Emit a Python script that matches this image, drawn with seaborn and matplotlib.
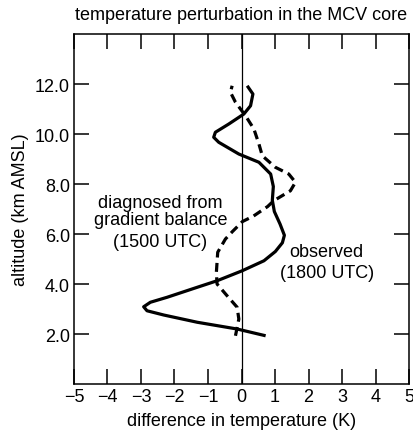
import numpy as np
import pandas as pd
import matplotlib
matplotlib.use("Agg")
import matplotlib.pyplot as plt
import seaborn as sns

# observed profile (1800 UTC): temperature difference (K) vs altitude (km)
obs_dt = [0.72, -0.13, -1.32, -2.32, -2.82, -2.92, -2.72, -2.22, -1.32, -0.73, 0.02,
          0.67, 1.01, 1.22, 1.28, 1.15, 0.98, 0.92, 0.95, 0.87, 0.52, -0.08, -0.68,
          -0.83, -0.78, -0.38, 0.07, 0.27, 0.34, 0.17]
obs_alt = [1.93, 2.2, 2.47, 2.76, 2.93, 3.09, 3.27, 3.47, 3.87, 4.13, 4.53,
           4.93, 5.3, 5.65, 5.95, 6.4, 6.9, 7.35, 7.9, 8.4, 8.87, 9.2, 9.67,
           9.87, 10.07, 10.4, 10.8, 11.13, 11.6, 11.93]

# diagnosed from gradient balance (1500 UTC)
diag_dt = [-0.18, -0.08, -0.13, -0.43, -0.73, -0.75, -0.71, -0.48, -0.27, 0.03, 0.36,
           0.78, 0.96, 1.46, 1.61, 1.41, 1.01, 0.62, 0.52, 0.37, 0.12, -0.18, -0.33, -0.28]
diag_alt = [1.93, 2.6, 3.07, 3.53, 4.0, 4.47, 5.27, 5.8, 6.1, 6.5, 6.72,
            7.1, 7.33, 7.73, 8.07, 8.4, 8.67, 9.13, 9.6, 10.2, 10.73, 11.27, 11.67, 11.93]

x_ticks = [-5, -4, -3, -2, -1, 0, 1, 2, 3, 4, 5]
y_ticks = [2, 4, 6, 8, 10, 12]

sns.set_style("ticks")
plt.rcParams["font.family"] = ["Liberation Sans", "DejaVu Sans"]
plt.rcParams["axes.unicode_minus"] = True
plt.rcParams["text.color"] = "black"
plt.rcParams["axes.labelcolor"] = "black"
fs = 13

fig = plt.figure(figsize=(4.14, 4.35), dpi=100)
ax = fig.add_axes([0.1787, 0.1149, 0.8093, 0.8046])

obs_df = pd.DataFrame({"dt": obs_dt, "alt": obs_alt})
diag_df = pd.DataFrame({"dt": diag_dt, "alt": diag_alt})

sns.lineplot(data=obs_df, x="dt", y="alt", sort=False, estimator=None,
             color="black", lw=2.3, ax=ax, solid_joinstyle="round",
             solid_capstyle="butt")
ax.plot(diag_df["dt"], diag_df["alt"], color="black", lw=2.3,
        dashes=(2.8, 1.7), dash_joinstyle="round")

ax.axvline(0, color="black", lw=0.9)

ax.set_xlim(-5, 5)
ax.set_ylim(0, 14)
ax.set_xticks(x_ticks)
ax.set_yticks(y_ticks)
ax.set_yticklabels([f"{v:.1f}" for v in y_ticks])
ax.tick_params(direction="in", length=10.5, width=1.1, top=True, right=True,
               labelsize=fs, pad=3, colors="black")
for s in ax.spines.values():
    s.set_linewidth(1.1)
    s.set_color("black")

ax.set_xlabel("difference in temperature (K)", fontsize=fs, labelpad=5,
              color="black")
ax.set_ylabel("altitude (km AMSL)", fontsize=fs, labelpad=4, color="black")
ax.set_title("temperature perturbation in the MCV core", fontsize=fs, pad=11,
             color="black")

ax.text(-2.42, 7.28, "diagnosed from", ha="center", va="center", fontsize=fs)
ax.text(-2.42, 6.6, "gradient balance", ha="center", va="center", fontsize=fs)
ax.text(-2.42, 5.72, "(1500 UTC)", ha="center", va="center", fontsize=fs)
ax.text(2.54, 5.32, "observed", ha="center", va="center", fontsize=fs)
ax.text(2.54, 4.45, "(1800 UTC)", ha="center", va="center", fontsize=fs)

fig.savefig("out.png", dpi=100)
